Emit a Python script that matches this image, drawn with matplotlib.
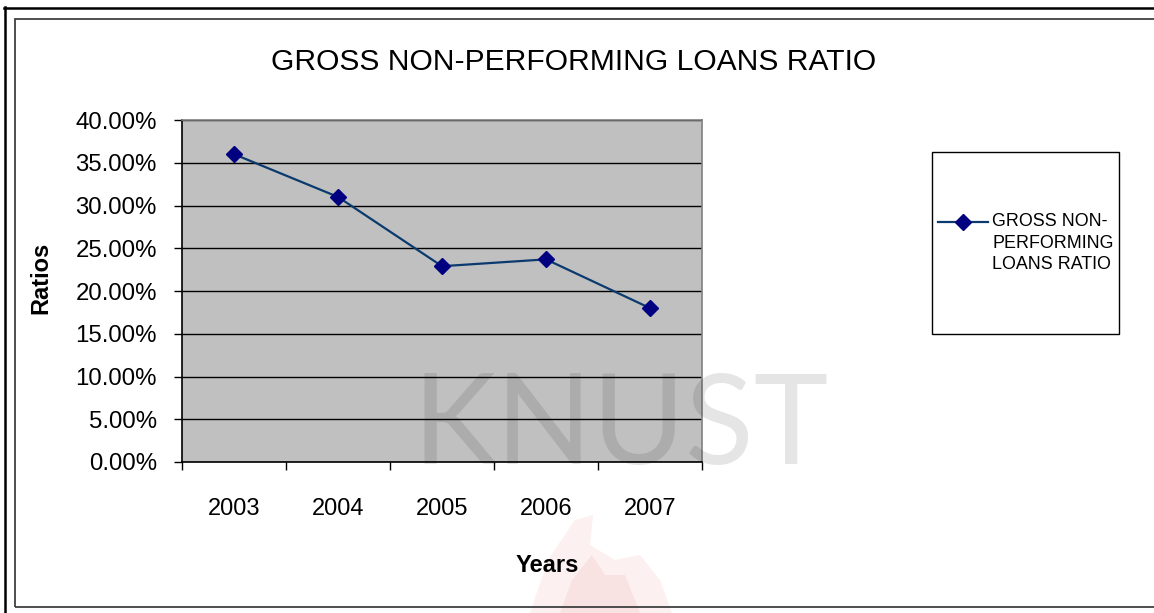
import matplotlib
matplotlib.use("Agg")
import matplotlib.pyplot as plt
from matplotlib.patches import Rectangle, Polygon
from matplotlib.lines import Line2D
from matplotlib.ticker import FixedLocator, PercentFormatter

plt.rcParams['font.family'] = ['Liberation Sans', 'DejaVu Sans']

# Data
years = ['2003', '2004', '2005', '2006', '2007']
npl_ratio = [36.0, 31.0, 22.9, 23.7, 18.0]
series_name = 'GROSS NON-\nPERFORMING\nLOANS RATIO'
y_ticks = [0, 5, 10, 15, 20, 25, 30, 35, 40]

W, H = 1154, 613
fig = plt.figure(figsize=(W / 100, H / 100), dpi=100)

def fx(px):
    return px / W

def fy(py):
    return 1 - py / H

# Page frames (outer black, inner dark grey)
fig.add_artist(Line2D([fx(5), fx(5)], [fy(7), -0.1], color='black', lw=1.8))
fig.add_artist(Line2D([fx(4), 1.1], [fy(8), fy(8)], color='black', lw=1.8))
fig.add_artist(Rectangle((fx(15), fy(607)), 1.2, fy(19) - fy(607), fill=False,
                         edgecolor='#404040', lw=1.3, transform=fig.transFigure))

# faint flame logo in the background
flame_out = [(530, 613), (548, 560), (575, 520), (593, 515), (590, 545), (615, 560),
             (640, 555), (660, 580), (672, 613)]
flame_in = [(560, 613), (572, 580), (592, 555), (605, 575), (625, 575), (640, 613)]
fig.add_artist(Polygon([(fx(a), fy(b)) for a, b in flame_out], closed=True,
                       facecolor='#fcf0f0', edgecolor='none', transform=fig.transFigure, zorder=0))
fig.add_artist(Polygon([(fx(a), fy(b)) for a, b in flame_in], closed=True,
                       facecolor='#f9e2e2', edgecolor='none', transform=fig.transFigure, zorder=0))

ax = fig.add_axes([fx(182), fy(462), fx(702) - fx(182), fy(120) - fy(462)])
ax.set_facecolor('#C0C0C0')

x = list(range(len(years)))
ax.plot(x, npl_ratio, color='#0B3A6E', lw=1.6, marker='D', markersize=8.5,
        markerfacecolor='#000080', markeredgecolor='#000080', zorder=3)

ax.set_xlim(-0.5, len(years) - 0.5)
ax.set_ylim(0, 40)
ax.yaxis.set_major_locator(FixedLocator(y_ticks))
ax.yaxis.set_major_formatter(PercentFormatter(decimals=2))
ax.grid(axis='y', color='black', lw=1.0)
ax.set_axisbelow(True)

# category ticks between years, labels centred on years
ax.xaxis.set_major_locator(FixedLocator([i - 0.5 for i in range(len(years) + 1)]))
ax.xaxis.set_minor_locator(FixedLocator(x))
ax.set_xticklabels([])
ax.set_xticklabels(years, minor=True)
ax.tick_params(axis='x', which='major', length=6, width=1, color='black', direction='out')
ax.tick_params(axis='x', which='minor', length=0, pad=26, labelsize=17)
ax.tick_params(axis='y', length=6, width=1, color='black', direction='out', pad=12, labelsize=17.3)

for side in ['top', 'right']:
    ax.spines[side].set_color('#808080')
    ax.spines[side].set_linewidth(1.2)
for side in ['left', 'bottom']:
    ax.spines[side].set_color('black')
    ax.spines[side].set_linewidth(1.2)

# titles
fig.text(fx(573.5), fy(62), 'GROSS NON-PERFORMING LOANS RATIO', fontsize=21.6,
         ha='center', va='center')
fig.text(fx(547), fy(566), 'Years', fontsize=17, fontweight='bold', ha='center', va='center')
fig.text(fx(41), fy(278), 'Ratios', fontsize=17, fontweight='bold', rotation=90,
         ha='center', va='center')

# legend box
fig.add_artist(Rectangle((fx(932), fy(334)), fx(1119) - fx(932), fy(152) - fy(334),
                         fill=False, edgecolor='black', lw=1.0, transform=fig.transFigure))
fig.add_artist(Line2D([fx(938), fx(988)], [fy(222), fy(222)], color='#0B3A6E', lw=1.6,
                      transform=fig.transFigure))
fig.add_artist(Line2D([fx(963)], [fy(222)], marker='D', markersize=8.5, color='#000080',
                      transform=fig.transFigure))
fig.text(fx(992), fy(213), series_name, fontsize=12.9, ha='left', va='top', linespacing=1.36)

# KNUST watermark
fig.text(fx(621), fy(464), 'KNUST', fontsize=91, family=['Lato', 'DejaVu Sans'],
         color='black', alpha=0.1, ha='center', va='baseline', zorder=10)

fig.savefig('out.png', dpi=100)
